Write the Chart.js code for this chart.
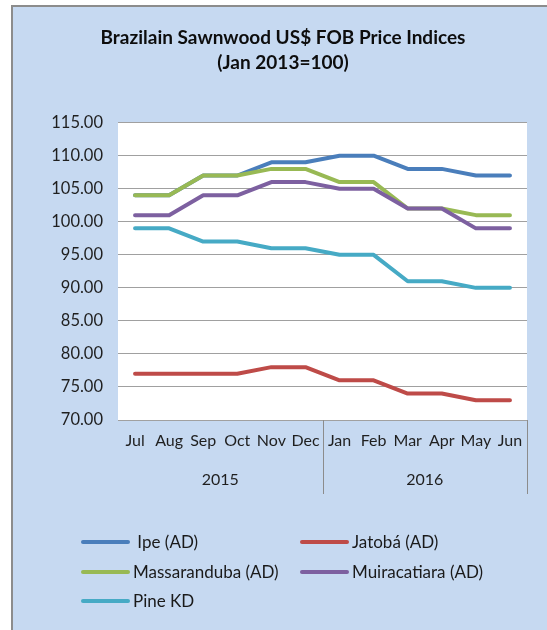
<!DOCTYPE html>
<html>
<head>
<meta charset="utf-8">
<script src="https://cdn.jsdelivr.net/npm/chart.js@4.4.1/dist/chart.umd.min.js"></script>
<style>
  html, body { margin: 0; padding: 0; background: #fff; }
  #wrap { width: 547px; height: 630px; }
</style>
</head>
<body>
<div id="wrap"><canvas id="price-chart" width="547" height="630"></canvas></div>
<script>
  // values
  var months = ["Jul", "Aug", "Sep", "Oct", "Nov", "Dec", "Jan", "Feb", "Mar", "Apr", "May", "Jun"];
  var years = ["2015", "2016"];
  var yTicks = [70, 75, 80, 85, 90, 95, 100, 105, 110, 115];

  var ipe = [104, 104, 107, 107, 109, 109, 110, 110, 108, 108, 107, 107];
  var jatoba = [77, 77, 77, 77, 78, 78, 76, 76, 74, 74, 73, 73];
  var massaranduba = [104, 104, 107, 107, 108, 108, 106, 106, 102, 102, 101, 101];
  var muiracatiara = [101, 101, 104, 104, 106, 106, 105, 105, 102, 102, 99, 99];
  var pineKD = [99, 99, 97, 97, 96, 96, 95, 95, 91, 91, 90, 90];

  var FONT = "Lato";

  //Set the series colors
  var cIpe = "#4a7ebb";
  var cJatoba = "#be4b48";
  var cMassa = "#98b954";
  var cMuira = "#7d60a0";
  var cPine = "#46aac5";

  // later series sit on top, like the spreadsheet
  function line(label, data, color, order) {
    return {
      label: label,
      data: data,
      order: order,
      borderColor: color,
      backgroundColor: color,
      borderWidth: 4,
      borderCapStyle: "round",
      borderJoinStyle: "round",
      pointRadius: 0,
      tension: 0,
      fill: false
    };
  }

  // background + frame, like the spreadsheet chart box
  var framePlugin = {
    id: "frame",
    beforeDraw: function (chart) {
      var ctx = chart.ctx;
      ctx.save();
      ctx.fillStyle = "#ffffff";
      ctx.fillRect(0, 0, chart.width, chart.height);
      ctx.fillStyle = "#c6d9f1";
      ctx.fillRect(11, 5, chart.width - 11, chart.height - 5);
      ctx.fillStyle = "#8c8c8c";
      ctx.fillRect(11, 5, chart.width - 11, 2);
      ctx.fillRect(11, 5, 2, chart.height - 5);
      ctx.fillStyle = "#ffffff";
      var a = chart.chartArea;
      ctx.fillRect(a.left, a.top, a.right - a.left, a.bottom - a.top);
      ctx.restore();
    }
  };

  // year group separators under the month labels
  var groupPlugin = {
    id: "groups",
    afterDraw: function (chart) {
      var ctx = chart.ctx;
      var x = chart.scales.x;
      var x2 = chart.scales.x2;
      var a = chart.chartArea;
      var mid = (x.getPixelForValue(5) + x.getPixelForValue(6)) / 2;
      ctx.save();
      ctx.strokeStyle = "#8c8c8c";
      ctx.lineWidth = 1;
      [mid, a.right].forEach(function (px) {
        px = Math.round(px) + 0.5;
        ctx.beginPath();
        ctx.moveTo(px, a.bottom);
        ctx.lineTo(px, x2.bottom - 6);
        ctx.stroke();
      });
      ctx.restore();
    }
  };

  // two column legend as in the reference
  var legendPlugin = {
    id: "twoColLegend",
    afterDraw: function (chart) {
      var ctx = chart.ctx;
      var cols = [83, 302];
      var rows = [542, 572, 601];
      ctx.save();
      ctx.font = "17px " + FONT;
      ctx.textBaseline = "middle";
      ctx.fillStyle = "#1a1a1a";
      chart.data.datasets.forEach(function (ds, i) {
        var cx = cols[i % 2];
        var cy = rows[Math.floor(i / 2)];
        ctx.strokeStyle = ds.borderColor;
        ctx.lineWidth = 4;
        ctx.lineCap = "round";
        ctx.beginPath();
        ctx.moveTo(cx, cy);
        ctx.lineTo(cx + 45, cy);
        ctx.stroke();
        ctx.fillText((i === 0 ? " " : "") + ds.label, cx + 50, cy + 1);
      });
      ctx.restore();
    }
  };

  var ctx = document.getElementById("price-chart");

  var chart = new Chart(ctx, {
    type: "line",
    data: {
      labels: months,
      datasets: [
        line("Ipe (AD)", ipe, cIpe, 5),
        line("Jatobá (AD)", jatoba, cJatoba, 4),
        line("Massaranduba (AD)", massaranduba, cMassa, 3),
        line("Muiracatiara (AD)", muiracatiara, cMuira, 2),
        line("Pine KD", pineKD, cPine, 1)
      ]
    },
    options: {
      responsive: false,
      animation: false,
      devicePixelRatio: 1,
      layout: {
        padding: { left: 39, right: 20, top: 0, bottom: 130 }
      },
      plugins: {
        legend: { display: false },
        tooltip: { enabled: false },
        title: {
          display: true,
          text: ["Brazilain Sawnwood US$ FOB Price Indices", "(Jan 2013=100)"],
          color: "#0d0d0d",
          font: { family: FONT, size: 19, weight: "bold", lineHeight: 1.28 },
          padding: { top: 26, bottom: 48 }
        }
      },
      scales: {
        y: {
          min: 70,
          max: 115,
          afterBuildTicks: function (scale) {
            scale.ticks = yTicks.map(function (v) { return { value: v }; });
          },
          afterFit: function (scale) { scale.width = 79; },
          grid: { color: "#a0a0a0", lineWidth: 1, drawTicks: false },
          border: { display: false },
          ticks: {
            padding: 15,
            color: "#1f1f1f",
            font: { family: FONT, size: 16.5 },
            callback: function (v) { return Number(v).toFixed(2); }
          }
        },
        x: {
          offset: true,
          afterFit: function (scale) { scale.height = 40; },
          grid: { display: false, drawTicks: false },
          border: { display: true, color: "#a0a0a0" },
          ticks: {
            padding: 11,
            autoSkip: false,
            maxRotation: 0,
            color: "#1f1f1f",
            font: { family: FONT, size: 16 }
          }
        },
        x2: {
          type: "category",
          position: "bottom",
          labels: years,
          offset: true,
          afterFit: function (scale) { scale.height = 40; },
          grid: { display: false, drawTicks: false },
          border: { display: false },
          ticks: {
            padding: 10,
            maxRotation: 0,
            color: "#1f1f1f",
            font: { family: FONT, size: 16 }
          }
        }
      }
    },
    plugins: [framePlugin, groupPlugin, legendPlugin]
  });
</script>
</body>
</html>
